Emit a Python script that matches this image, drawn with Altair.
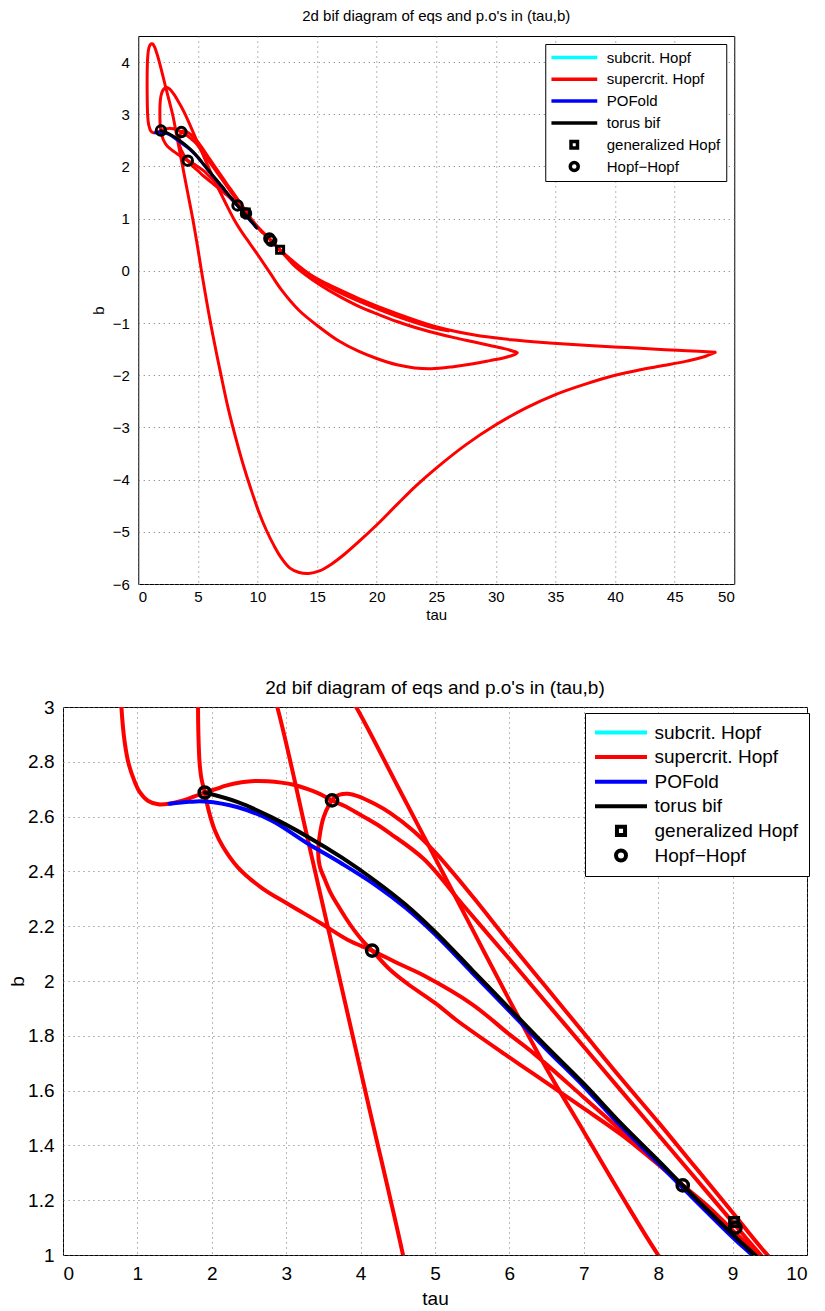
import altair as alt
import pandas as pd

TITLE = "2d bif diagram of eqs and p.o's in (tau,b)"
KINDS = ["subcrit. Hopf", "supercrit. Hopf", "POFold", "torus bif", "generalized Hopf", "Hopf\u2212Hopf"]
KIND_COLORS = ["#00ffff", "#ff0000", "#0000ff", "#000000", "#000000", "#000000"]

# ---- supercritical Hopf branches (red) ----
B1_tau = [48.4, 46.0, 44.2, 41.0, 37.8, 34.5, 31.3, 28.1, 24.9, 21.7, 18.5, 16.5, 15.26, 14.0, 12.7, 11.9, 11.0, 10.5, 10.0, 9.7, 9.38,
          9.0, 8.5, 8.0, 7.5, 7.0, 6.5, 6.0, 5.4, 4.85, 4.4, 4.2, 3.955, 3.8, 3.616,
          3.45, 3.29, 3.1, 2.935, 2.75, 2.577, 2.4, 2.19, 2.05, 1.905, 1.8, 1.68, 1.55, 1.43,
          1.28, 1.14, 1.03, 0.96, 0.885, 0.83, 0.785, 0.76, 0.745, 0.75, 0.78, 0.85, 0.95, 1.08, 1.2, 1.35, 1.5, 1.65, 1.85, 2.05, 2.3, 2.58,
          2.88, 3.3, 3.7, 4.1, 4.57, 4.95, 5.3, 5.75, 6.25, 6.9, 7.54, 8.2, 8.8, 9.45, 10.1, 10.75, 11.4, 12.0, 12.7, 13.5, 14.3, 15.2,
          16.2, 17.3, 18.5, 20.0, 21.7, 23.3, 25.0, 27.5, 30.0, 32.5, 35.0, 37.5, 40.0, 42.0, 44.2, 46.0, 47.4, 48.4]
B1_b = [-1.56, -1.53, -1.51, -1.47, -1.43, -1.38, -1.32, -1.225, -1.065, -0.82, -0.53, -0.32, -0.18, -0.01, 0.22, 0.40, 0.615, 0.725, 0.835, 0.91, 1.0,
        1.12, 1.28, 1.44, 1.60, 1.76, 1.92, 2.08, 2.27, 2.445, 2.538, 2.575, 2.613, 2.637, 2.659,
        2.683, 2.70, 2.716, 2.724, 2.729, 2.730, 2.725, 2.713, 2.70, 2.688, 2.677, 2.665, 2.654, 2.647,
        2.645, 2.658, 2.69, 2.73, 2.79, 2.87, 3.0, 3.2, 3.5, 3.8, 4.05, 4.22, 4.31, 4.35, 4.35, 4.30, 4.21, 4.10, 3.93, 3.75, 3.52, 3.27,
        3.0, 2.505, 2.03, 1.555, 1.0, 0.5, 0.0, -0.6, -1.22, -1.95, -2.63, -3.22, -3.71, -4.18, -4.61, -4.97, -5.27, -5.5, -5.69, -5.78, -5.80, -5.75,
        -5.62, -5.43, -5.19, -4.87, -4.48, -4.12, -3.78, -3.33, -2.95, -2.63, -2.37, -2.17, -2.0, -1.9, -1.81, -1.73, -1.65, -1.56]

B2_tau = [26.0, 24.9, 21.7, 18.5, 16.5, 15.26, 14.0, 12.9, 11.9, 11.15, 10.5, 10.0, 9.42, 9.0, 8.5, 8.0, 7.5, 7.0, 6.5, 6.0, 5.5, 5.0, 4.7,
          4.4, 4.2, 3.96, 3.83, 3.72, 3.64, 3.58, 3.50, 3.45, 3.43, 3.45, 3.52, 3.60, 3.69, 3.80, 3.92, 4.04, 4.155, 4.4, 4.63, 5.0, 5.3,
          5.97, 6.33, 7.0, 7.5, 8.0, 8.33, 8.7, 9.0, 9.38, 10.0, 10.5, 11.0, 11.5, 11.9, 12.7, 14.0, 15.26, 18.5, 21.7, 24.9, 26.0]
B2_b = [-1.15, -1.10, -0.87, -0.58, -0.37, -0.215, -0.02, 0.18, 0.405, 0.578, 0.72, 0.85, 1.015, 1.155, 1.32, 1.485, 1.645, 1.81, 1.975, 2.14, 2.31, 2.47, 2.55,
        2.613, 2.645, 2.675, 2.683, 2.68, 2.668, 2.645, 2.595, 2.53, 2.47, 2.42, 2.37, 2.32, 2.278, 2.23, 2.183, 2.143, 2.111, 2.04, 1.99, 1.92, 1.855,
        1.727, 1.66, 1.535, 1.44, 1.33, 1.252, 1.16, 1.085, 0.995, 0.835, 0.72, 0.605, 0.50, 0.405, 0.24, 0.0, -0.2, -0.55, -0.85, -1.09, -1.15]

B3_tau = [10.0, 9.36, 9.0, 8.7, 8.33, 8.0, 7.5, 7.0, 6.33, 6.0, 5.5, 4.85, 4.5, 4.155, 3.83, 3.47, 3.03, 2.67, 2.35, 2.15, 2.04, 1.96, 1.905,
          1.86, 1.835, 1.82, 1.815, 1.82, 1.87, 1.97, 2.1, 2.25, 2.46, 2.7, 3.0, 3.3, 3.6, 3.94, 4.5, 5.0, 5.5, 6.0, 6.5, 7.0, 7.5, 8.0,
          8.5, 9.0, 9.9, 11.0, 12.0, 13.5, 15.26, 16.8, 18.47, 20.0, 21.7, 23.2, 24.6, 26.3, 28.1, 29.5, 30.7, 31.5, 31.8, 31.4, 30.7,
          29.5, 28.1, 26.5, 24.9, 23.3, 21.7, 20.1, 18.5, 16.8, 15.26, 14.0, 13.0, 12.4, 11.9, 11.0, 10.5, 10.0]
B3_b = [0.842, 1.0, 1.09, 1.17, 1.255, 1.335, 1.455, 1.575, 1.735, 1.805, 1.915, 2.02, 2.065, 2.111, 2.15, 2.21, 2.28, 2.34, 2.415, 2.49, 2.55, 2.62, 2.688,
        2.74, 2.80, 2.90, 3.0, 3.15, 3.3, 3.41, 3.47, 3.50, 3.51, 3.47, 3.38, 3.27, 3.15, 3.0, 2.71, 2.45, 2.19, 1.93, 1.68, 1.45, 1.22, 1.0,
        0.81, 0.64, 0.35, -0.02, -0.36, -0.76, -1.09, -1.34, -1.54, -1.68, -1.80, -1.86, -1.875, -1.84, -1.78, -1.72, -1.665, -1.61, -1.57, -1.535, -1.49,
        -1.43, -1.36, -1.28, -1.19, -1.09, -0.97, -0.83, -0.68, -0.48, -0.27, -0.07, 0.12, 0.27, 0.39, 0.615, 0.73, 0.842]

# ---- POFold (blue) and torus bifurcation (black) ----
POF_tau = [1.43, 1.7, 1.905, 2.35, 2.8, 3.3, 3.75, 4.2, 4.6, 5.0, 5.5, 6.0, 6.5, 7.0, 7.5, 8.0, 8.33, 9.0, 9.3, 9.6, 9.9]
POF_b = [2.647, 2.654, 2.655, 2.634, 2.586, 2.50, 2.428, 2.35, 2.268, 2.17, 2.03, 1.89, 1.75, 1.615, 1.47, 1.335, 1.245, 1.065, 0.99, 0.91, 0.83]

TOR_tau = [1.905, 2.35, 2.8, 3.3, 3.75, 4.2, 4.6, 5.0, 5.5, 6.0, 6.5, 7.0, 7.5, 8.0, 8.33, 9.0, 9.3, 9.6, 9.95]
TOR_b = [2.688, 2.653, 2.598, 2.525, 2.45, 2.365, 2.28, 2.18, 2.04, 1.90, 1.76, 1.625, 1.48, 1.345, 1.254, 1.075, 1.0, 0.92, 0.82]

# ---- special points ----
HH_tau = [1.905, 3.616, 4.155, 8.33, 9.04, 11.0, 11.15]
HH_b = [2.688, 2.659, 2.111, 1.254, 1.10, 0.62, 0.575]
GH_tau = [9.02, 11.9]
GH_b = [1.12, 0.405]


def curve_df(name, taus, bs):
    assert len(taus) == len(bs), name
    return pd.DataFrame({"tau": taus, "b": bs, "branch": name, "i": list(range(len(taus)))})


red_df = pd.concat([curve_df("B1", B1_tau, B1_b), curve_df("B2", B2_tau, B2_b), curve_df("B3", B3_tau, B3_b)],
                   ignore_index=True)
blue_df = curve_df("POFold", POF_tau, POF_b)
black_df = curve_df("torus", TOR_tau, TOR_b)
hh_df = pd.DataFrame({"tau": HH_tau, "b": HH_b, "kind": KINDS[5]})
gh_df = pd.DataFrame({"tau": GH_tau, "b": GH_b, "kind": KINDS[4]})

FONT = "Liberation Sans"
SQUARE_PATH = "M-0.81,-0.81H0.81V0.81H-0.81Z"


def panel(xdom, ydom, xvals, yvals, yfmt, W, H, fs, lw, title_offset, leg_place, leg_pad, leg_rowpad,
          sym_size, line_len, label_offset, circ, sq, mk_sw, leg_sw, xlab_pad, xtitle_pad, ylab_pad, ytitle_pad):
    half = line_len / 2.0 / (sym_size ** 0.5 / 2.0)
    line_path = "M-%.3f,0H%.3f" % (half, half)
    shapes = [line_path, line_path, line_path, line_path, SQUARE_PATH, "circle"]
    entry = max(fs, int((sym_size ** 0.5) + leg_sw + 0.999))
    x = alt.X("tau:Q", title="tau", scale=alt.Scale(domain=xdom, nice=False, zero=False),
              axis=alt.Axis(values=xvals, labelFontSize=fs, titleFontSize=fs, labelPadding=xlab_pad,
                            titlePadding=xtitle_pad, format="d"))
    y = alt.Y("b:Q", title="b", scale=alt.Scale(domain=ydom, nice=False, zero=False),
              axis=alt.Axis(values=yvals, labelFontSize=fs, titleFontSize=fs, labelPadding=ylab_pad,
                            titlePadding=ytitle_pad, format=yfmt))
    leg = alt.Legend(title=None, fillColor="white",
                     strokeColor="black", padding=leg_pad, cornerRadius=0, labelFontSize=fs,
                     labelFont=FONT, labelColor="black", symbolStrokeWidth=leg_sw,
                     symbolSize=sym_size, rowPadding=leg_rowpad, clipHeight=fs,
                     symbolOffset=line_len / 2.0 - entry / 2.0,
                     labelOffset=label_offset, labelLimit=400, **leg_place)
    color = alt.Color("kind:N", scale=alt.Scale(domain=KINDS, range=KIND_COLORS), legend=leg)
    shape = alt.Shape("kind:N", scale=alt.Scale(domain=KINDS, range=shapes), legend=leg)

    red = alt.Chart(red_df).mark_line(color="#ff0000", strokeWidth=lw, clip=True, interpolate="catmull-rom",
                                      strokeJoin="round", strokeCap="round").encode(
        x=x, y=y, detail="branch:N", order="i:Q")
    blue = alt.Chart(blue_df).mark_line(color="#0000ff", strokeWidth=lw, clip=True, interpolate="catmull-rom",
                                        strokeCap="round").encode(x=x, y=y, order="i:Q")
    black = alt.Chart(black_df).mark_line(color="#000000", strokeWidth=lw, clip=True, interpolate="catmull-rom",
                                          strokeCap="round").encode(x=x, y=y, order="i:Q")
    sqr = alt.Chart(gh_df).mark_point(filled=False, size=sq, strokeWidth=mk_sw, opacity=1, clip=True).encode(
        x=x, y=y, color=color, shape=shape)
    cir = alt.Chart(hh_df).mark_point(filled=False, size=circ, strokeWidth=mk_sw, opacity=1, clip=True).encode(
        x=x, y=y, color=color, shape=shape)
    return alt.layer(red, blue, black, sqr, cir).properties(
        width=W, height=H,
        title=alt.TitleParams(TITLE, fontSize=fs, font=FONT, fontWeight="normal", color="black",
                              offset=title_offset, anchor="middle"))


top = panel([0, 50], [-6, 4.5], list(range(0, 51, 5)), list(range(-6, 5)), "d", 596, 548, 15, 3, 12,
            {"orient": "top-right", "offset": 8}, 6, 5.8,
            64, 46, 25, 90, 75, 3, 3.5, 5, 3, 9, 6)
bottom = panel([0, 10], [1, 3], list(range(0, 11)), [1, 1.2, 1.4, 1.6, 1.8, 2, 2.2, 2.4, 2.6, 2.8, 3], ".1~f",
               744, 548, 19, 4, 0, {"orient": "none", "legendX": 522, "legendY": 6}, 10, 4.6,
               100, 52, 24, 125, 110, 3.5, 4, 9, 6, 9, 0)

chart = alt.vconcat(top, bottom, spacing=55, center=True).resolve_scale(
    x="independent", y="independent", color="independent", shape="independent"
).resolve_legend(color="independent", shape="independent").properties(
    padding={"left": 0, "top": 0, "right": 0, "bottom": 0}
).configure_view(stroke="black", strokeWidth=1).configure_axis(
    domain=False, ticks=False, grid=True, gridColor="#707070", gridDash=[1, 4], gridWidth=1,
    labelFont=FONT, titleFont=FONT, titleFontWeight="normal", labelColor="black", titleColor="black"
)

chart.save("out.html", embed_options={"renderer": "svg", "actions": False})
